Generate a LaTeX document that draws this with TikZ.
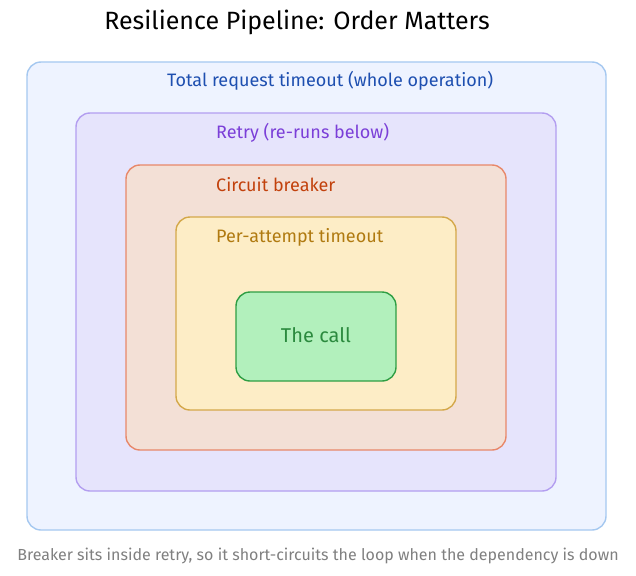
\documentclass[tikz,border=0pt]{standalone}
\usepackage{fontspec}
\setmainfont{Fira Sans}
\begin{document}
\begin{tikzpicture}[x=1pt,y=-1pt,
  box/.style={rounded corners=14pt,line width=1.4pt},
  lbl/.style={anchor=west,inner sep=0pt,font=\fontsize{18}{21}\selectfont}]
\definecolor{c1f}{HTML}{EEF3FF}\definecolor{c1s}{HTML}{A5C8F0}
\definecolor{c2f}{HTML}{E6E4FC}\definecolor{c2s}{HTML}{B39EF0}
\definecolor{c3f}{HTML}{F3E0D6}\definecolor{c3s}{HTML}{E8886A}
\definecolor{c4f}{HTML}{FDEDC6}\definecolor{c4s}{HTML}{D4A84A}
\definecolor{c5f}{HTML}{B2F0BC}\definecolor{c5s}{HTML}{2F9E44}
\definecolor{t1}{HTML}{1E4FB0}\definecolor{t2}{HTML}{7B3FD8}
\definecolor{t3}{HTML}{C2410C}\definecolor{t4}{HTML}{B07A10}
\definecolor{t5}{HTML}{2B8A3E}
\useasboundingbox (0,0) rectangle (636,575);
\fill[white] (0,0) rectangle (636,575);
\node[font=\fontsize{25}{30}\selectfont] (title) at (297,22) {Resilience Pipeline: Order Matters};
\draw[box,fill=c1f,draw=c1s] (27,62) rectangle (606,530);
\draw[box,fill=c2f,draw=c2s] (76,113) rectangle (556,491);
\draw[box,fill=c3f,draw=c3s] (126,165) rectangle (506,450);
\draw[box,fill=c4f,draw=c4s] (176,217) rectangle (456,410);
\draw[box,fill=c5f,draw=c5s] (236,292) rectangle (396,381);
\node[lbl,text=t1] (l1) at (167,81) {Total request timeout (whole operation)};
\node[lbl,text=t2] (l2) at (216,133) {Retry (re-runs below)};
\node[lbl,text=t3] (l3) at (216,185) {Circuit breaker};
\node[lbl,text=t4] (l4) at (216,237) {Per-attempt timeout};
\node[font=\fontsize{20}{24}\selectfont,text=t5] (call) at (316,335) {The call};
\node[font=\fontsize{16}{19}\selectfont,text=gray] (cap) at (318,556) {Breaker sits inside retry, so it short-circuits the loop when the dependency is down};
\end{tikzpicture}
\end{document}
